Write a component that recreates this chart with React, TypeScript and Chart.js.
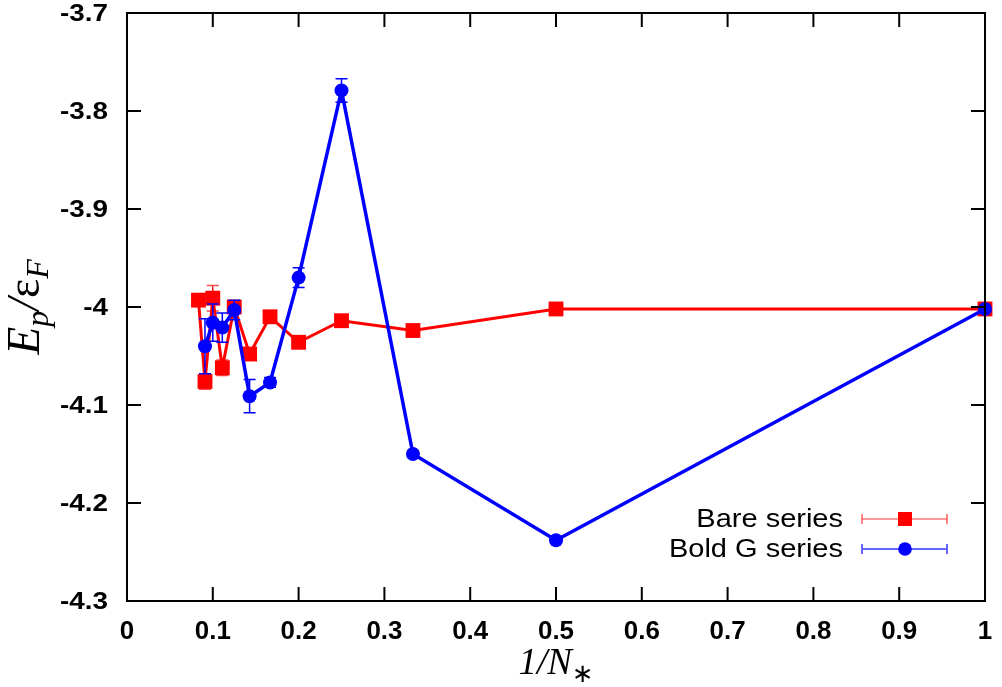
import React, { useEffect, useRef } from "react";
import { Chart, registerables } from "chart.js";

Chart.register(...registerables);

// ---- data ----
const bareX = [1, 0.5, 0.3333, 0.25, 0.2, 0.1667, 0.1429, 0.125, 0.1111, 0.1, 0.0909, 0.0833];
const bareY = [-4.002, -4.002, -4.024, -4.014, -4.036, -4.01, -4.048, -4.0, -4.062, -3.991, -4.076, -3.993];
const bareErr = [0.001, 0.002, 0.002, 0.002, 0.003, 0.003, 0.004, 0.005, 0.008, 0.013, 0.008, 0.004];

const boldX = [1, 0.5, 0.3333, 0.25, 0.2, 0.1667, 0.1429, 0.125, 0.1111, 0.1, 0.0909];
const boldY = [-4.002, -4.238, -4.15, -3.779, -3.97, -4.077, -4.091, -4.003, -4.021, -4.016, -4.04];
const boldErr = [0.001, 0.002, 0.003, 0.012, 0.01, 0.005, 0.017, 0.01, 0.015, 0.019, 0.028];

const seriesNames = ["Bare series", "Bold G series"];
const xTickValues = [0, 0.1, 0.2, 0.3, 0.4, 0.5, 0.6, 0.7, 0.8, 0.9, 1];
const yTickValues = [-4.3, -4.2, -4.1, -4.0, -3.9, -3.8, -3.7];

const RED = "rgb(255,0,0)";
const BLUE = "rgb(0,0,255)";
const TICK_FONT = "bold 24px 'Liberation Sans', Arial, sans-serif";
const LEGEND_FONT = "25px 'Liberation Sans', Arial, sans-serif";
const STRETCH = 1.16;

const fmt = (v: number) => String(Number(v.toFixed(1)));

function stretchText(ctx: CanvasRenderingContext2D, text: string, x: number, y: number, sx: number, sy = 1) {
  ctx.save();
  ctx.translate(x, y);
  ctx.scale(sx, sy);
  ctx.fillText(text, 0, 0);
  ctx.restore();
}

const errorBarPlugin = {
  id: "errorBars",
  beforeDatasetDraw(chart: any, args: any) {
    const ds: any = chart.data.datasets[args.index];
    if (!ds.errors) return;
    const ctx = chart.ctx;
    const xs = chart.scales.x;
    const ys = chart.scales.y;
    ctx.save();
    ctx.strokeStyle = ds.errColor;
    ctx.lineWidth = 1.5;
    ds.data.forEach((p: any, i: number) => {
      const e = ds.errors[i];
      const px = xs.getPixelForValue(p.x);
      const y1 = ys.getPixelForValue(p.y - e);
      const y2 = ys.getPixelForValue(p.y + e);
      ctx.beginPath();
      ctx.moveTo(px, y1);
      ctx.lineTo(px, y2);
      ctx.moveTo(px - 6, y1);
      ctx.lineTo(px + 6, y1);
      ctx.moveTo(px - 6, y2);
      ctx.lineTo(px + 6, y2);
      ctx.stroke();
    });
    ctx.restore();
  },
};

function drawRich(ctx: CanvasRenderingContext2D, parts: { t: string; f: string; dy: number }[], cx: number, cy: number) {
  let total = 0;
  parts.forEach((p) => {
    ctx.font = p.f;
    total += ctx.measureText(p.t).width;
  });
  let x = cx - total / 2;
  parts.forEach((p) => {
    ctx.font = p.f;
    ctx.fillText(p.t, x, cy + p.dy);
    x += ctx.measureText(p.t).width;
  });
}

const framePlugin = {
  id: "frame",
  afterDatasetsDraw(chart: any) {
    const { ctx, chartArea: a } = chart;
    const xs = chart.scales.x;
    const ys = chart.scales.y;
    ctx.save();
    ctx.strokeStyle = "#000";
    ctx.lineWidth = 2;
    ctx.strokeRect(a.left, a.top, a.right - a.left, a.bottom - a.top);
    const TL = 14;
    ctx.beginPath();
    xTickValues.forEach((v) => {
      const px = xs.getPixelForValue(v);
      ctx.moveTo(px, a.bottom);
      ctx.lineTo(px, a.bottom - TL);
      ctx.moveTo(px, a.top);
      ctx.lineTo(px, a.top + TL);
    });
    yTickValues.forEach((v) => {
      const py = ys.getPixelForValue(v);
      ctx.moveTo(a.left, py);
      ctx.lineTo(a.left + TL, py);
      ctx.moveTo(a.right, py);
      ctx.lineTo(a.right - TL, py);
    });
    ctx.stroke();
    ctx.restore();
  },
  afterDraw(chart: any) {
    const { ctx, chartArea: a } = chart;
    const xs = chart.scales.x;
    const ys = chart.scales.y;
    ctx.save();
    ctx.fillStyle = "#000";

    // tick labels
    ctx.font = TICK_FONT;
    ctx.textBaseline = "middle";
    ctx.textAlign = "center";
    xTickValues.forEach((v) => {
      stretchText(ctx, fmt(v), xs.getPixelForValue(v), 632, 1.08, 1.1);
    });
    ctx.textAlign = "right";
    yTickValues.forEach((v) => {
      stretchText(ctx, fmt(v), a.left - 19, ys.getPixelForValue(v) + 1, STRETCH);
    });

    // axis titles
    ctx.textAlign = "left";
    ctx.textBaseline = "alphabetic";
    const big = "italic 37px 'Liberation Serif', 'Times New Roman', serif";
    const sub = "italic 26px 'Liberation Serif', 'Times New Roman', serif";
    drawRich(
      ctx,
      [
        { t: "1/N", f: big, dy: 0 },
        { t: "∗", f: "26px 'DejaVu Sans', sans-serif", dy: 8 },
      ],
      (a.left + a.right) / 2,
      674
    );
    const ybig = "italic 46px 'Liberation Serif', 'Times New Roman', serif";
    const ysub = "italic 32px 'Liberation Serif', 'Times New Roman', serif";
    ctx.save();
    ctx.translate(39, (a.top + a.bottom) / 2);
    ctx.rotate(-Math.PI / 2);
    drawRich(
      ctx,
      [
        { t: "E", f: ybig, dy: 0 },
        { t: "p", f: ysub, dy: 9 },
        { t: "/", f: ybig, dy: 0 },
        { t: "ε", f: "46px 'Liberation Serif', 'Times New Roman', serif", dy: 0 },
        { t: "F", f: ysub, dy: 9 },
      ],
      0,
      0
    );
    ctx.restore();

    // legend
    const rows = [
      { name: seriesNames[0], color: RED, y: 519, style: "rect", lw: 1.2 },
      { name: seriesNames[1], color: BLUE, y: 549, style: "circle", lw: 2 },
    ];
    rows.forEach((r) => {
      ctx.font = LEGEND_FONT;
      ctx.textAlign = "right";
      ctx.textBaseline = "middle";
      ctx.fillStyle = "#000";
      stretchText(ctx, r.name, 843, r.y + 1, STRETCH);
      ctx.strokeStyle = r.color;
      ctx.globalAlpha = r.style === "circle" ? 0.6 : 0.8;
      ctx.lineWidth = r.lw;
      ctx.beginPath();
      ctx.moveTo(862, r.y);
      ctx.lineTo(947, r.y);
      ctx.moveTo(862, r.y - 5);
      ctx.lineTo(862, r.y + 5);
      ctx.moveTo(947, r.y - 5);
      ctx.lineTo(947, r.y + 5);
      ctx.stroke();
      ctx.globalAlpha = 1;
      ctx.fillStyle = r.color;
      if (r.style === "rect") {
        ctx.fillRect(905 - 7, r.y - 7, 14, 14);
      } else {
        ctx.beginPath();
        ctx.arc(905, r.y, 6.8, 0, Math.PI * 2);
        ctx.fill();
      }
    });
    ctx.restore();
  },
};

export default function App() {
  const ref = useRef<HTMLCanvasElement | null>(null);
  useEffect(() => {
    if (!ref.current) return;
    const zeroPad = (s: any) => {
      s.paddingLeft = 0;
      s.paddingRight = 0;
      s.paddingTop = 0;
      s.paddingBottom = 0;
    };
    const chart = new Chart(ref.current, {
      type: "line",
      data: {
        datasets: [
          {
            label: seriesNames[0],
            data: bareX.map((x, i) => ({ x, y: bareY[i] })),
            errors: bareErr,
            errColor: "rgba(255,0,0,0.7)",
            borderColor: RED,
            backgroundColor: RED,
            borderWidth: 3,
            pointStyle: "rect",
            pointRadius: 10.5,
            pointBorderWidth: 0,
            tension: 0,
            order: 2,
            clip: false,
          } as any,
          {
            label: seriesNames[1],
            data: boldX.map((x, i) => ({ x, y: boldY[i] })),
            errors: boldErr,
            errColor: BLUE,
            borderColor: BLUE,
            backgroundColor: BLUE,
            borderWidth: 3.5,
            pointStyle: "circle",
            pointRadius: 7,
            pointBorderWidth: 0,
            tension: 0,
            order: 1,
            clip: false,
          } as any,
        ],
      },
      options: {
        animation: false,
        responsive: true,
        maintainAspectRatio: false,
        layout: { padding: { left: 0, top: 13, right: 17, bottom: 0 } },
        plugins: { legend: { display: false }, tooltip: { enabled: false } },
        scales: {
          x: {
            type: "linear",
            min: 0,
            max: 1,
            grid: { display: false },
            border: { display: false },
            ticks: { display: false },
            afterBuildTicks: (s: any) => {
              s.ticks = xTickValues.map((v) => ({ value: v }));
            },
            afterFit: (s: any) => {
              s.height = 86;
              zeroPad(s);
            },
          },
          y: {
            type: "linear",
            min: -4.3,
            max: -3.7,
            grid: { display: false },
            border: { display: false },
            ticks: { display: false },
            afterBuildTicks: (s: any) => {
              s.ticks = yTickValues.map((v) => ({ value: v }));
            },
            afterFit: (s: any) => {
              s.width = 127;
              zeroPad(s);
            },
          },
        },
      },
      plugins: [errorBarPlugin, framePlugin],
    });
    return () => chart.destroy();
  }, []);
  return (
    <div style={{ position: "absolute", left: 0, top: 0, width: 1002, height: 687, background: "#fff" }}>
      <canvas ref={ref} />
    </div>
  );
}
